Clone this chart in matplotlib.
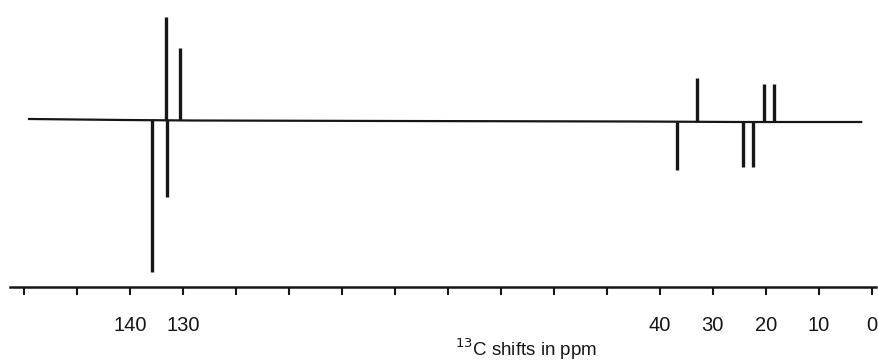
import numpy as np
import matplotlib
matplotlib.use('Agg')
import matplotlib.pyplot as plt

# DEPT-style 13C spectrum
peak_ppm = [135.8, 133.0, 133.2, 130.6, 36.8, 33.0, 24.3, 22.5, 20.3, 18.4]
peak_int = [-152, -77, 103, 72, -48, 44, -45, -45, 38, 38]

baseline_ppm = [159.0, 150.0, 141.0, 128.0, 90.0, 45.0, 25.0, 2.0]
baseline_int = [1.0, 0.5, 0.0, -0.5, -1.0, -1.5, -2.0, -2.0]

tick_ppm = list(range(160, -1, -10))
tick_labels = ['' if t not in (140, 130, 40, 30, 20, 10, 0) else str(t) for t in tick_ppm]

plt.rcParams['font.family'] = ['Liberation Sans', 'DejaVu Sans']

fig = plt.figure(figsize=(8.79, 3.63), dpi=100)
ax = fig.add_axes([10 / 879, 76 / 363, 866 / 879, 287 / 363])

ink = '#161616'
ax.plot(baseline_ppm, baseline_int, color=ink, linewidth=1.6)
base_at_peak = np.interp(peak_ppm, baseline_ppm[::-1], baseline_int[::-1])
ax.vlines(peak_ppm, base_at_peak, np.array(peak_int) + base_at_peak,
          colors=ink, linewidth=2.4)

ax.set_xlim(162.6, -0.8)
ax.set_ylim(-167, 120)

for side in ('top', 'right', 'left'):
    ax.spines[side].set_visible(False)
ax.spines['bottom'].set_linewidth(1.8)
ax.spines['bottom'].set_color(ink)
ax.set_yticks([])
ax.set_xticks(tick_ppm)
ax.set_xticklabels(tick_labels, fontsize=14.5, color=ink)
ax.tick_params(axis='x', direction='out', length=6, width=1.5, pad=15, colors=ink)

fig.text(526 / 879, 1 - 349 / 363, r'$^{13}$C shifts in ppm', fontsize=13.5,
         color=ink, ha='center', va='center')

plt.savefig('out.png', dpi=100)
